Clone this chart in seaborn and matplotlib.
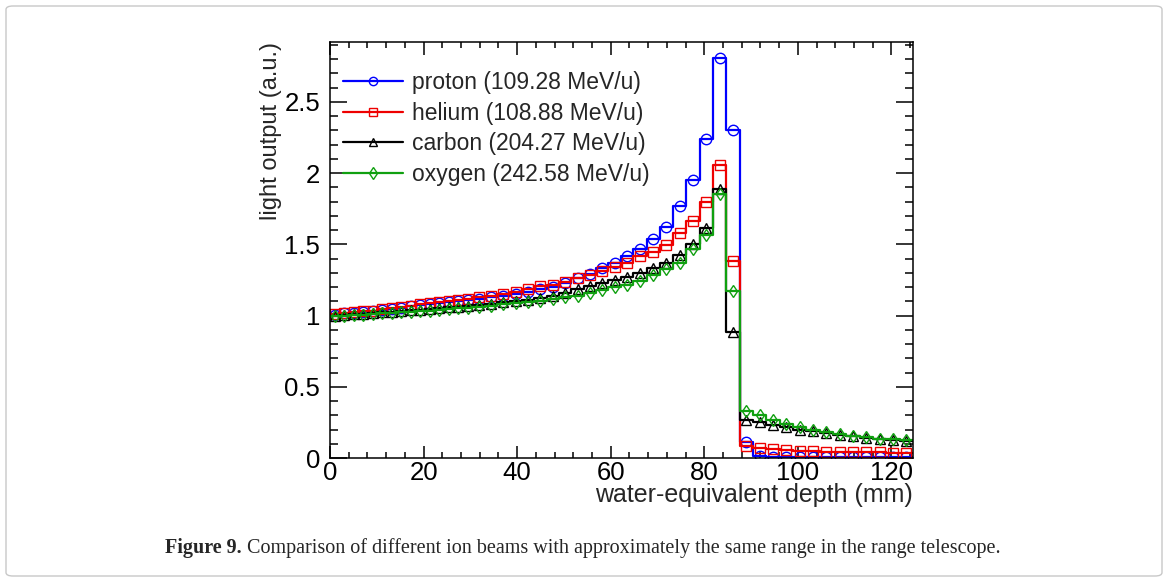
import numpy as np
import pandas as pd
import matplotlib
matplotlib.use("Agg")
import matplotlib.pyplot as plt
from matplotlib.lines import Line2D
from matplotlib.patches import FancyBboxPatch
from matplotlib.ticker import MultipleLocator, FormatStrFormatter
import seaborn as sns

# bin edges in water-equivalent depth (mm)
edges = [0.00, 2.03, 4.06, 6.09, 8.12, 10.15, 12.18, 14.21, 16.24, 18.27, 20.30,
         22.33, 24.36, 26.39, 28.42, 30.45, 33.09, 35.73, 38.38, 41.02, 43.66,
         46.30, 48.94, 51.59, 54.23, 56.87, 59.51, 62.16, 64.80, 67.65, 70.50,
         73.34, 76.19, 79.04, 81.89, 84.74, 87.58, 90.43, 93.28, 96.13, 98.98,
         101.82, 104.67, 107.52, 110.37, 113.22, 116.06, 118.91, 121.76, 124.61]

proton = [1.005, 1.015, 1.02, 1.025, 1.03, 1.04, 1.045, 1.055, 1.065, 1.072, 1.08,
          1.088, 1.093, 1.10, 1.107, 1.118, 1.128, 1.14, 1.152, 1.168,
          1.184, 1.202, 1.23, 1.261, 1.289, 1.331, 1.366, 1.418,
          1.47, 1.54, 1.62, 1.77, 1.95, 2.24, 2.81, 2.30,
          0.115, 0.012, 0.01, 0.01, 0.01, 0.01, 0.01, 0.01, 0.01, 0.01, 0.01, 0.01, 0.01]
helium = [1.01, 1.02, 1.025, 1.03, 1.035, 1.045, 1.05, 1.06, 1.07, 1.08, 1.085,
          1.095, 1.10, 1.107, 1.115, 1.128, 1.14, 1.153, 1.165, 1.183,
          1.207, 1.214, 1.237, 1.261, 1.284, 1.314, 1.338, 1.371,
          1.418, 1.448, 1.495, 1.577, 1.663, 1.80, 2.056, 1.38,
          0.085, 0.068, 0.06, 0.055, 0.05, 0.047, 0.045, 0.043, 0.041, 0.04, 0.039, 0.038, 0.037]
carbon = [1.0, 1.005, 1.01, 1.012, 1.018, 1.022, 1.027, 1.032, 1.037, 1.042, 1.048,
          1.053, 1.058, 1.063, 1.068, 1.075, 1.083, 1.092, 1.10, 1.11,
          1.121, 1.137, 1.16, 1.184, 1.205, 1.226, 1.246, 1.272,
          1.30, 1.331, 1.366, 1.425, 1.50, 1.616, 1.888, 0.886,
          0.27, 0.25, 0.23, 0.215, 0.20, 0.187, 0.175, 0.163, 0.152, 0.143, 0.135, 0.128, 0.12]
oxygen = [0.995, 0.998, 1.002, 1.005, 1.01, 1.015, 1.018, 1.022, 1.027, 1.03, 1.035,
          1.04, 1.045, 1.05, 1.055, 1.062, 1.07, 1.078, 1.087, 1.095,
          1.104, 1.115, 1.128, 1.14, 1.16, 1.179, 1.198, 1.216,
          1.245, 1.284, 1.324, 1.371, 1.464, 1.565, 1.85, 1.17,
          0.33, 0.30, 0.267, 0.238, 0.22, 0.197, 0.18, 0.166, 0.154, 0.145, 0.136, 0.131, 0.125]

labels = ["proton (109.28 MeV/u)", "helium (108.88 MeV/u)",
          "carbon (204.27 MeV/u)", "oxygen (242.58 MeV/u)"]
colors = ["#0000ff", "#ee0000", "#000000", "#10a010"]
markers = ["o", "s", "^", "d"]

edges_arr = np.array(edges)
centers = (edges_arr[:-1] + edges_arr[1:]) / 2

sns.set_theme(style="ticks")
plt.rcParams["font.family"] = ["Liberation Sans", "DejaVu Sans"]

fig = plt.figure(figsize=(11.68, 5.82), dpi=100)
ax = fig.add_axes([330 / 1168, 1 - 458 / 582, (913 - 330) / 1168, (458 - 42) / 582])

# step histogram + open markers at bin centres for each beam
handles = []
for vals, lab, col, mk in zip([proton, helium, carbon, oxygen], labels, colors, markers):
    df = pd.DataFrame({"depth": centers, "light": vals})
    sns.histplot(data=df, x="depth", weights="light", bins=edges, element="step",
                 fill=False, color=col, linewidth=1.6, ax=ax)
    sns.lineplot(data=df, x="depth", y="light", estimator=None, sort=False,
                 linestyle="", marker=mk, markersize=7.5 if mk != "d" else 6.5,
                 markerfacecolor="none", markeredgecolor=col, markeredgewidth=1.0,
                 color=col, ax=ax)
    handles.append(Line2D([0], [0], color=col, lw=1.6, marker=mk, markersize=6,
                          markerfacecolor="none", markeredgecolor=col))

ax.set_xlim(0, 124.61)
ax.set_ylim(0, 2.92)
ax.xaxis.set_major_locator(MultipleLocator(20))
ax.xaxis.set_minor_locator(MultipleLocator(4))
ax.yaxis.set_major_locator(MultipleLocator(0.5))
ax.yaxis.set_minor_locator(MultipleLocator(0.1))
ax.yaxis.set_major_formatter(FormatStrFormatter("%g"))

ax.tick_params(which="both", direction="in", top=True, right=True, width=1.1,
               labelsize=18.5, colors="black")
ax.tick_params(axis="x", which="major", length=9, pad=2)
ax.tick_params(axis="x", which="minor", length=4.5)
ax.tick_params(axis="y", which="major", length=12, pad=7)
ax.tick_params(axis="y", which="minor", length=6)
for sp in ax.spines.values():
    sp.set_linewidth(1.1)
    sp.set_color("black")

ax.set_xlabel("water-equivalent depth (mm)", fontsize=18, loc="right", labelpad=-1)
ax.set_ylabel("light output (a.u.)", fontsize=17, loc="top", labelpad=2)

ax.legend(handles, labels, loc="upper left", frameon=False, fontsize=16.5,
          bbox_to_anchor=(343 / 1168, 1 - 71 / 582), bbox_transform=fig.transFigure,
          borderpad=0, borderaxespad=0, handlelength=2.6, handletextpad=0.4,
          labelspacing=0.33)

# figure caption and frame
cap_bold = fig.text(165 / 1168, 1 - 548 / 582, "Figure 9.", fontsize=14.5,
                    fontweight="bold", ha="left", va="center", family="Liberation Serif")
ax.annotate(" Comparison of different ion beams with approximately the same range in the range telescope.",
            xy=(1, 0.5), xycoords=cap_bold, fontsize=14.5, ha="left", va="center",
            family="Liberation Serif", annotation_clip=False)
fig.patches.append(FancyBboxPatch((6 / 1168, 6 / 582), 1156 / 1168, 570 / 582,
                                  boxstyle="round,pad=0,rounding_size=0.006",
                                  transform=fig.transFigure, fill=False,
                                  edgecolor="#c8c8c8", linewidth=1.0))

fig.savefig("out.png", dpi=100)
